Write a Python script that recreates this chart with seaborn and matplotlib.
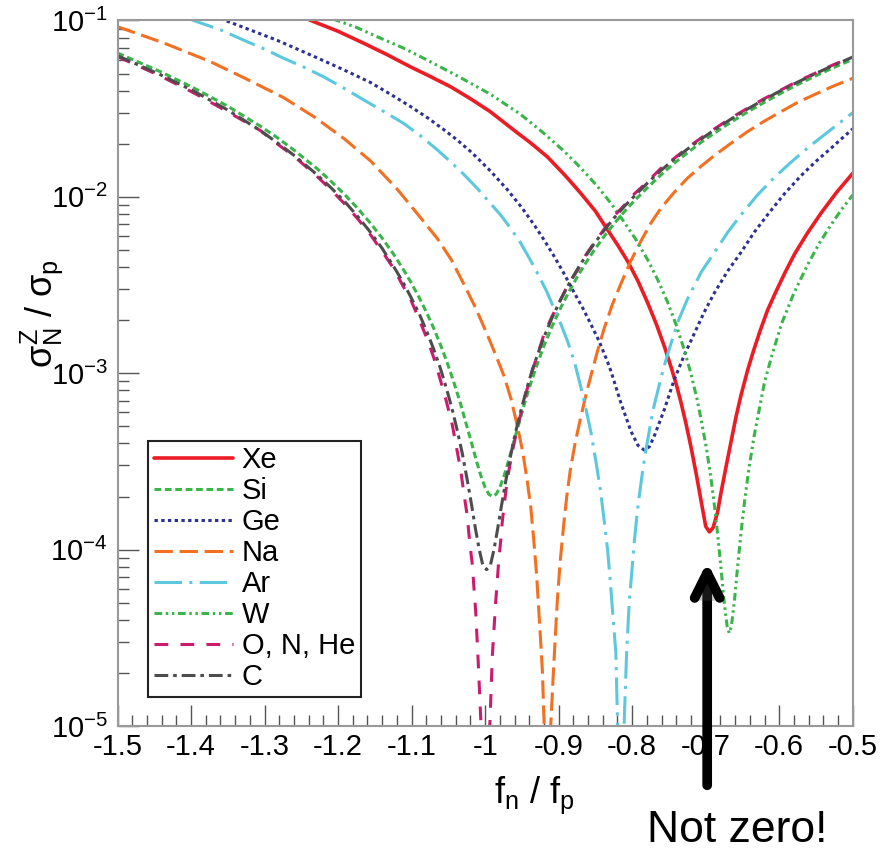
import numpy as np
import matplotlib
matplotlib.use("Agg")
import matplotlib.pyplot as plt
import matplotlib.ticker as mticker
import matplotlib.patheffects as pe
import seaborn as sns

# Curvas (fn/fp, sigma_N^Z / sigma_p)
xe_x = [-1.240, -1.233, -1.200, -1.165, -1.135, -1.102, -1.075, -1.047, -1.020, -0.993,
        -0.961, -0.938, -0.915, -0.890, -0.870, -0.850, -0.834, -0.820, -0.806, -0.792,
        -0.779, -0.767, -0.756, -0.747, -0.740, -0.734, -0.727, -0.720, -0.713, -0.706,
        -0.700, -0.695, -0.690, -0.684, -0.679, -0.672, -0.666, -0.659, -0.652, -0.643,
        -0.635, -0.626, -0.616, -0.605, -0.592, -0.579, -0.562, -0.543, -0.522, -0.500]
xe_y = [0.1013, 0.0984, 0.0868, 0.0742, 0.0645, 0.0547, 0.0482, 0.0421, 0.0360, 0.0304,
        0.0239, 0.0202, 0.0168, 0.01305, 0.01048, 0.00829, 0.00655, 0.00535, 0.0043, 0.00332,
        0.00251, 0.00189, 0.00141, 0.00108, 8.63e-4, 6.93e-4, 5.22e-4, 3.81e-4, 2.7e-4, 1.86e-4,
        1.355e-4, 1.26e-4, 1.33e-4, 1.62e-4, 2.12e-4, 3.0e-4, 4.0e-4, 5.6e-4, 7.5e-4, 1.04e-3,
        1.34e-3, 1.74e-3, 2.27e-3, 2.87e-3, 3.73e-3, 4.75e-3, 6.2e-3, 8.1e-3, 0.0106, 0.0136]

si_x = [-1.500, -1.442, -1.397, -1.351, -1.306, -1.283, -1.260, -1.229, -1.210, -1.192,
        -1.174, -1.156, -1.140, -1.124, -1.112, -1.101, -1.090, -1.079, -1.070, -1.061,
        -1.052, -1.043, -1.034, -1.026, -1.019, -1.012, -1.006, -1.000, -0.995, -0.990,
        -0.985, -0.980, -0.974, -0.968, -0.961, -0.954, -0.946, -0.938, -0.930, -0.920,
        -0.909, -0.897, -0.886, -0.874, -0.863, -0.852, -0.838, -0.8245, -0.811, -0.797,
        -0.779, -0.761, -0.743, -0.7245, -0.706, -0.688, -0.665, -0.643, -0.620, -0.597,
        -0.575, -0.552, -0.526, -0.500]
si_y = [0.0654, 0.0513, 0.0416, 0.0328, 0.0252, 0.0217, 0.0184, 0.0145, 0.0123, 0.0104,
        0.00866, 0.00709, 0.00583, 0.00469, 0.00392, 0.00328, 0.0027, 0.00218, 0.0018, 0.00146,
        1.16e-3, 9.0e-4, 6.84e-4, 5.2e-4, 4.1e-4, 3.2e-4, 2.64e-4, 2.25e-4, 2.06e-4, 2.0e-4,
        2.06e-4, 2.25e-4, 2.64e-4, 3.2e-4, 4.1e-4, 5.2e-4, 6.84e-4, 8.76e-4, 1.1e-3, 1.43e-3,
        1.84e-3, 2.36e-3, 2.9e-3, 3.56e-3, 4.23e-3, 4.96e-3, 5.98e-3, 7.05e-3, 8.21e-3, 9.51e-3,
        0.0113, 0.0133, 0.0155, 0.0178, 0.0204, 0.0230, 0.0266, 0.0303, 0.0344, 0.0388,
        0.0433, 0.0482, 0.0540, 0.0602]

ge_x = [-1.360, -1.349, -1.316, -1.283, -1.252, -1.220, -1.188, -1.156, -1.128, -1.1015,
        -1.078, -1.056, -1.038, -1.020, -1.006, -0.9925, -0.970, -0.950, -0.9335, -0.920,
        -0.9063, -0.893, -0.879, -0.867, -0.8563, -0.845, -0.8335, -0.829, -0.8154, -0.8018,
        -0.7922, -0.7837, -0.7766, -0.770, -0.7564, -0.7428, -0.729, -0.7155, -0.702, -0.6883,
        -0.670, -0.6519, -0.634, -0.6155, -0.593, -0.5702, -0.550, -0.5293, -0.515, -0.500]
ge_y = [0.1024, 0.0984, 0.0872, 0.0772, 0.0678, 0.0592, 0.0515, 0.0445, 0.0380, 0.0325,
        0.0280, 0.0240, 0.0210, 0.0181, 0.0159, 0.01397, 0.01101, 0.00867, 0.00695, 0.00571,
        0.00461, 0.00369, 0.00287, 0.00233, 0.0019, 0.00152, 0.00116, 0.00103, 6.8e-4, 4.7e-4,
        3.9e-4, 3.67e-4, 3.83e-4, 4.4e-4, 6.2e-4, 9.2e-4, 1.27e-3, 1.68e-3, 2.22e-3, 2.85e-3,
        3.8e-3, 4.85e-3, 6.3e-3, 7.95e-3, 0.0104, 0.0132, 0.0159, 0.0189, 0.0214, 0.0243]

na_x = [-1.500, -1.437, -1.374, -1.322, -1.274, -1.232, -1.192, -1.156, -1.120, -1.092,
        -1.065, -1.046, -1.029, -1.013, -0.997, -0.985, -0.974, -0.965, -0.956, -0.949,
        -0.943, -0.938, -0.934, -0.930, -0.927, -0.924, -0.922, -0.919, -0.912, -0.907,
        -0.902, -0.898, -0.893, -0.889, -0.884, -0.877, -0.870, -0.862, -0.854, -0.846,
        -0.838, -0.827, -0.815, -0.802, -0.788, -0.775, -0.761, -0.743, -0.725, -0.706,
        -0.688, -0.665, -0.643, -0.620, -0.597, -0.575, -0.552, -0.526, -0.500]
na_y = [0.0922, 0.0745, 0.0585, 0.0460, 0.0365, 0.0283, 0.0214, 0.0160, 0.0111, 0.0080,
        0.0058, 0.0044, 0.0032, 0.00235, 0.00165, 0.00125, 9.57e-4, 7.2e-4, 5.0e-4, 3.6e-4,
        2.5e-4, 1.75e-4, 1.15e-4, 7.2e-5, 4.5e-5, 2.8e-5, 2.0e-5, 8e-6, 8e-6, 2.08e-5,
        5.0e-5, 8.5e-5, 1.4e-4, 2.0e-4, 2.85e-4, 4.15e-4, 5.6e-4, 7.8e-4, 1.045e-3, 1.39e-3,
        1.80e-3, 2.45e-3, 3.24e-3, 4.32e-3, 5.62e-3, 7.05e-3, 8.61e-3, 0.01059, 0.01274, 0.01493,
        0.01718, 0.0202, 0.02344, 0.0269, 0.0305, 0.0343, 0.0380, 0.0425, 0.0470]

ar_x = [-1.405, -1.392, -1.360, -1.329, -1.300, -1.274, -1.247, -1.220, -1.193, -1.165,
        -1.138, -1.111, -1.088, -1.065, -1.047, -1.029, -1.011, -0.993, -0.979, -0.965,
        -0.952, -0.940, -0.929, -0.917, -0.906, -0.897, -0.888, -0.879, -0.870, -0.863,
        -0.856, -0.849, -0.843, -0.838, -0.8335, -0.830, -0.8267, -0.8222, -0.8199, -0.819,
        -0.8115, -0.8109, -0.8076, -0.8041, -0.8005, -0.7973, -0.794, -0.7905, -0.786, -0.7813,
        -0.776, -0.770, -0.7586, -0.7518, -0.738, -0.7245, -0.706, -0.688, -0.670, -0.652,
        -0.630, -0.6065, -0.584, -0.561, -0.530, -0.500]
ar_y = [0.1033, 0.0984, 0.0885, 0.0775, 0.0688, 0.0610, 0.0545, 0.0480, 0.0415, 0.0354,
        0.0305, 0.0261, 0.0222, 0.01845, 0.0158, 0.0134, 0.0112, 0.0092, 0.0079, 0.0066,
        0.0055, 0.0045, 0.0037, 0.00295, 0.00232, 0.0019, 0.00152, 0.00118, 8.4e-4, 6.3e-4,
        4.6e-4, 3.1e-4, 2.15e-4, 1.45e-4, 1.0e-4, 6.8e-5, 4.5e-5, 2.59e-5, 1.04e-5, 8e-6,
        8e-6, 1.04e-5, 2.59e-5, 4.97e-5, 7.5e-5, 1.09e-4, 1.5e-4, 2.0e-4, 2.75e-4, 3.67e-4,
        4.9e-4, 6.6e-4, 1.02e-3, 1.28e-3, 1.95e-3, 2.65e-3, 3.75e-3, 4.85e-3, 6.3e-3, 7.9e-3,
        0.0102, 0.0129, 0.0157, 0.0190, 0.0240, 0.0300]

w_x = [-1.207, -1.175, -1.147, -1.113, -1.079, -1.035, -0.993, -0.952, -0.920, -0.893,
       -0.870, -0.847, -0.828, -0.811, -0.795, -0.779, -0.765, -0.752, -0.740, -0.729,
       -0.720, -0.712, -0.706, -0.699, -0.693, -0.688, -0.684, -0.679, -0.675, -0.671,
       -0.668, -0.665, -0.661, -0.657, -0.652, -0.647, -0.641, -0.634, -0.627, -0.620,
       -0.610, -0.597, -0.580, -0.561, -0.545, -0.529, -0.515, -0.500]
w_y = [0.102, 0.0913, 0.0809, 0.0703, 0.0597, 0.0478, 0.0382, 0.0294, 0.0229, 0.0182,
       0.0146, 0.01143, 0.00909, 0.0072, 0.00573, 0.0044, 0.00337, 0.00254, 0.00187, 0.00135,
       9.9e-4, 7.2e-4, 5.4e-4, 3.75e-4, 2.56e-4, 1.76e-4, 1.25e-4, 7.7e-5, 5.1e-5, 3.7e-5,
       3.36e-5, 3.7e-5, 5.1e-5, 7.7e-5, 1.25e-4, 1.9e-4, 2.93e-4, 4.44e-4, 6.3e-4, 8.9e-4,
       1.26e-3, 1.9e-3, 2.85e-3, 4.15e-3, 5.5e-3, 7.0e-3, 8.5e-3, 0.01026]

o_x = [-1.500, -1.442, -1.397, -1.351, -1.306, -1.283, -1.260, -1.229, -1.210, -1.192,
       -1.174, -1.156, -1.140, -1.124, -1.112, -1.101, -1.090, -1.079, -1.070, -1.061,
       -1.053, -1.0447, -1.039, -1.0334, -1.029, -1.0243, -1.021, -1.0174, -1.015, -1.0129,
       -1.0098, -1.0061, -1.004, -0.996, -0.9935, -0.9902, -0.9857, -0.9812, -0.979, -0.9766,
       -0.973, -0.9698, -0.963, -0.9561, -0.946, -0.9357, -0.928, -0.920, -0.909, -0.897,
       -0.886, -0.874, -0.863, -0.852, -0.838, -0.8245, -0.811, -0.797, -0.779, -0.761,
       -0.743, -0.7245, -0.706, -0.688, -0.665, -0.643, -0.620, -0.597, -0.575, -0.552,
       -0.526, -0.500]
o_y = [0.0624, 0.0485, 0.0390, 0.0305, 0.0238, 0.0200, 0.0170, 0.0131, 0.0110, 0.0092,
       0.00757, 0.0061, 0.0049, 0.0039, 0.00314, 0.0026, 0.00203, 0.00157, 0.00123, 9.2e-4,
       7.0e-4, 5.1e-4, 3.8e-4, 2.85e-4, 2.1e-4, 1.55e-4, 1.1e-4, 8.2e-5, 5.9e-5, 4.5e-5,
       2.5e-5, 1.13e-5, 8e-6, 8e-6, 1.04e-5, 2.5e-5, 5.0e-5, 9.0e-5, 1.1e-4, 1.45e-4,
       1.95e-4, 2.5e-4, 3.6e-4, 4.9e-4, 7.3e-4, 1.04e-3, 1.3e-3, 1.66e-3, 2.1e-3, 2.63e-3,
       3.25e-3, 3.85e-3, 4.69e-3, 5.47e-3, 6.56e-3, 7.8e-3, 8.93e-3, 0.0104, 0.0122, 0.0145,
       0.0165, 0.0190, 0.0216, 0.0243, 0.0281, 0.0318, 0.0361, 0.0405, 0.0452, 0.0500,
       0.0562, 0.0620]

c_x = [-1.500, -1.442, -1.397, -1.351, -1.306, -1.283, -1.260, -1.229, -1.210, -1.192,
       -1.174, -1.156, -1.140, -1.124, -1.112, -1.101, -1.090, -1.079, -1.070, -1.061,
       -1.053, -1.045, -1.038, -1.031, -1.024, -1.018, -1.013, -1.008, -1.003, -0.998,
       -0.993, -0.988, -0.983, -0.978, -0.972, -0.966, -0.959, -0.952, -0.944, -0.936,
       -0.928, -0.920, -0.909, -0.897, -0.886, -0.874, -0.863, -0.852, -0.838, -0.8245,
       -0.811, -0.797, -0.779, -0.761, -0.743, -0.7245, -0.706, -0.688, -0.665, -0.643,
       -0.620, -0.597, -0.575, -0.552, -0.526, -0.500]
c_y = [0.0631, 0.0493, 0.0399, 0.0312, 0.0238, 0.0203, 0.0172, 0.0134, 0.0113, 0.0095,
       0.0078, 0.0063, 0.0051, 0.0040, 0.0033, 0.0027, 0.00219, 0.00171, 0.00137, 1.07e-3,
       8.3e-4, 6.3e-4, 4.75e-4, 3.5e-4, 2.44e-4, 1.75e-4, 1.3e-4, 1.0e-4, 8.1e-5, 7.7e-5,
       8.1e-5, 1.0e-4, 1.31e-4, 1.75e-4, 2.44e-4, 3.31e-4, 4.55e-4, 6.0e-4, 8.0e-4, 1.04e-3,
       1.3e-3, 1.6e-3, 2.06e-3, 2.63e-3, 3.21e-3, 3.92e-3, 4.63e-3, 5.4e-3, 6.47e-3, 7.6e-3,
       8.8e-3, 0.0101, 0.0120, 0.0141, 0.0163, 0.0187, 0.0213, 0.0240, 0.0277, 0.0315,
       0.0357, 0.0402, 0.0447, 0.0497, 0.0557, 0.0620]

xtick_vals = [-1.5, -1.4, -1.3, -1.2, -1.1, -1.0, -0.9, -0.8, -0.7, -0.6, -0.5]
xtick_labels = ["-1.5", "-1.4", "-1.3", "-1.2", "-1.1", "-1", "-0.9", "-0.8", "-0.7", "-0.6", "-0.5"]
ytick_vals = [1e-5, 1e-4, 1e-3, 1e-2, 1e-1]
ytick_labels = [r"$\mathdefault{10^{-5}}$", r"$\mathdefault{10^{-4}}$", r"$\mathdefault{10^{-3}}$",
                r"$\mathdefault{10^{-2}}$", r"$\mathdefault{10^{-1}}$"]

# Estilo general
sns.set_theme(style="white")
plt.rcParams["font.family"] = ["Liberation Sans", "DejaVu Sans"]
plt.rcParams["mathtext.fontset"] = "custom"
plt.rcParams["mathtext.rm"] = "Liberation Sans"
plt.rcParams["mathtext.it"] = "Liberation Sans"
plt.rcParams["mathtext.bf"] = "Liberation Sans:bold"
plt.rcParams["axes.unicode_minus"] = False
plt.rcParams["text.color"] = "black"
plt.rcParams["axes.labelcolor"] = "black"

fig = plt.figure(figsize=(8.95, 8.52), dpi=100)
ax = fig.add_axes([0.1313, 0.1479, 0.8215, 0.8281])
ax.set_yscale("log")

# (etiqueta, x, y, color, estilo de línea, grosor)
series = [
    ("Xe", xe_x, xe_y, "#ec1c24", "-", 2.6),
    ("Si", si_x, si_y, "#39b54a", (0, (2.2, 1.2)), 2.2),
    ("Ge", ge_x, ge_y, "#2e3192", (0, (1.1, 1.1)), 2.2),
    ("Na", na_x, na_y, "#f36f21", (0, (6, 2.2)), 2.2),
    ("Ar", ar_x, ar_y, "#5bc8de", (0, (9, 2.4, 1, 2.4)), 2.2),
    ("W", w_x, w_y, "#39b54a", (0, (2.5, 1.2, 0.8, 1.2, 0.8, 1.2)), 2.2),
    ("O, N, He", o_x, o_y, "#cc1b6c", (0, (4.5, 4)), 2.2),
    ("C", c_x, c_y, "#4d4d4d", (0, (4.5, 1.6, 1.2, 1.6)), 2.2),
]
for name, xs, ys, col, ls, lw in series:
    sns.lineplot(x=xs, y=ys, ax=ax, color=col, linestyle=ls, linewidth=lw,
                 estimator=None, sort=False, label=name)

ax.set_xlim(-1.5, -0.5)
ax.set_ylim(1e-5, 1e-1)
ax.set_xticks(xtick_vals)
ax.set_xticklabels(xtick_labels)
ax.set_yticks(ytick_vals)
ax.set_yticklabels(ytick_labels)
ax.xaxis.set_minor_locator(mticker.MultipleLocator(0.02))
ax.yaxis.set_minor_locator(mticker.LogLocator(base=10, subs=np.arange(2, 10)))
ax.yaxis.set_minor_formatter(mticker.NullFormatter())

ax.tick_params(which="both", direction="in", bottom=True, left=True, top=False, right=False,
               color="#555555")
ax.tick_params(which="major", length=15, width=1.0)
ax.tick_params(which="minor", length=8, width=1.0)
ax.tick_params(axis="x", which="major", labelsize=21, pad=5, labelcolor="black")
ax.tick_params(axis="y", which="major", labelsize=21, pad=7, labelcolor="black")
for sp in ax.spines.values():
    sp.set_color("#999999")
    sp.set_linewidth(1.5)

ax.set_xlabel(r"$f_n$ / $f_p$", fontsize=26)
ax.set_ylabel(r"$\sigma_N^Z$ / $\sigma_p$", fontsize=26)
ax.xaxis.set_label_coords(0.567, -0.098)
ax.xaxis.label.set_va("center")
ax.yaxis.set_label_coords(-0.103, 0.585)
ax.yaxis.label.set_va("center")

leg = ax.legend(loc="lower left", bbox_to_anchor=(0.042, 0.0415), borderaxespad=0,
                fontsize=21, handlelength=2.7, handletextpad=0.3, labelspacing=0.1,
                borderpad=0.2, frameon=True, fancybox=False, edgecolor="#222222",
                framealpha=1)
leg.get_frame().set_linewidth(1.5)

# Flecha "Not zero!"
arr = ax.annotate("", xy=(-0.698, 8.5e-5), xycoords="data",
                  xytext=(-0.698, -0.084), textcoords=("data", "axes fraction"),
                  arrowprops=dict(arrowstyle="->,head_length=0.9,head_width=0.45",
                                  lw=7, color="black", shrinkA=0, shrinkB=0,
                                  mutation_scale=20, capstyle="round", joinstyle="round"),
                  annotation_clip=False)
arr.arrow_patch.set_path_effects([pe.SimplePatchShadow(offset=(2, -2), alpha=0.3), pe.Normal()])
fig.text(737 / 895, 1 - 830 / 852, "Not zero!", fontsize=32, ha="center", va="center")

fig.savefig("out.png", dpi=100)
